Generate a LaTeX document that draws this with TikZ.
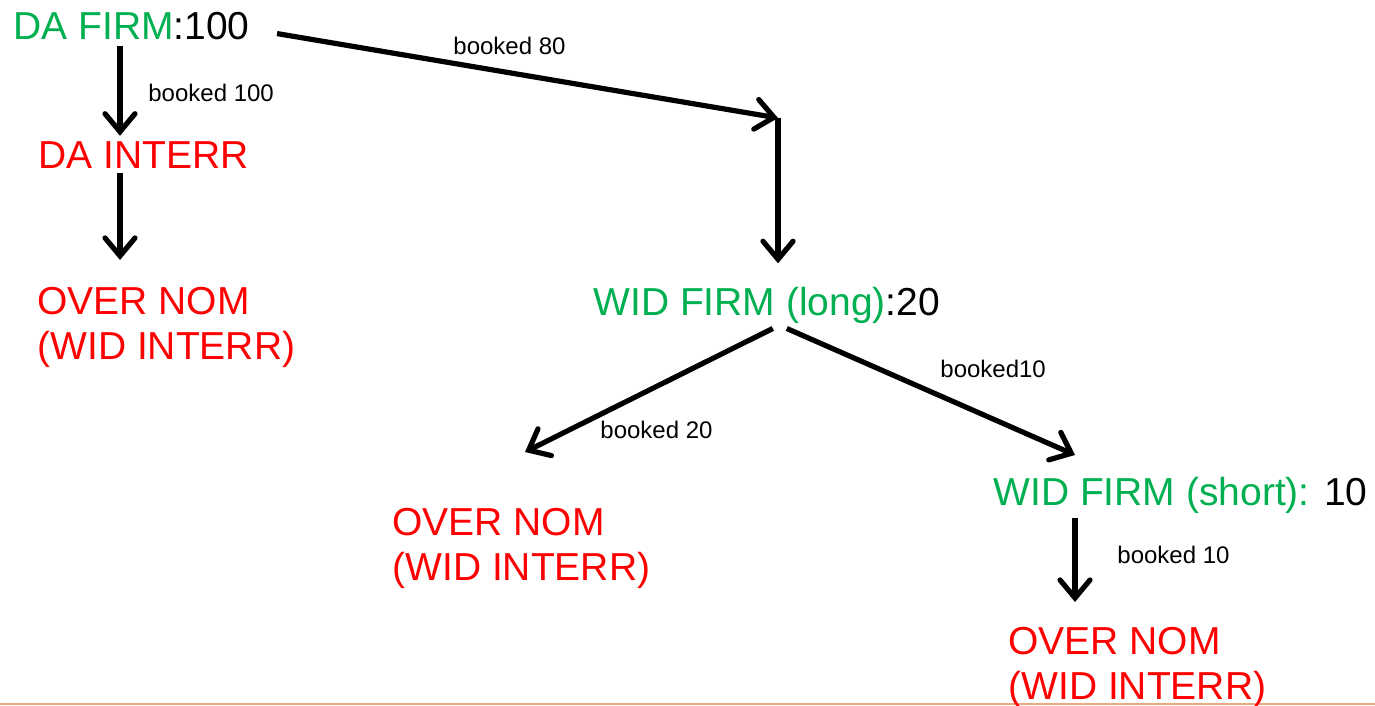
\documentclass[tikz,border=0pt]{standalone}
\usepackage{fontspec}
\setmainfont{Liberation Sans}
\usetikzlibrary{arrows.meta}
\definecolor{firmgreen}{RGB}{0,176,80}
\definecolor{interrred}{RGB}{255,0,0}
\definecolor{rulebrown}{RGB}{238,168,128}

\begin{document}
\begin{tikzpicture}[x=0.5pt,y=-0.5pt]
	\tikzset{firm/.style={text=firmgreen, font=\fontsize{19.5}{22.5}\selectfont,
				inner sep=2.5pt, anchor=base west}}
	\tikzset{interr/.style={text=interrred, font=\fontsize{19.5}{22.5}\selectfont,
				inner sep=2.5pt, align=left, anchor=north west}}
	\tikzset{bklabel/.style={font=\fontsize{12}{14}\selectfont, inner sep=0pt, anchor=base west}}
	\tikzset{flow/.style={line width=2.6pt,
				-{Straight Barb[length=9pt,width=15pt,line cap=round]}}}

	\useasboundingbox (0,0) rectangle (1375,706);
	\draw[rulebrown, line width=1pt] (0,704) -- (1375,704);

	% nodes
	\node[firm] (dafirm) at (8,40) {DA FIRM\textcolor{black}{:100}};
	\node[interr, anchor=base west] (dainterr) at (33,168) {DA INTERR};
	\node[interr] (onoma) at (32,282) {OVER NOM\\(WID INTERR)};
	\node[firm] (wlong) at (588,315) {WID FIRM (long)\textcolor{black}{:20}};
	\node[interr] (onomb) at (387,503) {OVER NOM\\(WID INTERR)};
	\node[firm] (wshort) at (988,505) {WID FIRM (short): \textcolor{black}{10}};
	\node[interr] (onomc) at (1003,622) {OVER NOM\\(WID INTERR)};

	% connector ends
	\coordinate (cola) at (120,0);
	\coordinate (colc) at (1075,0);
	\coordinate (bend) at (778,118);
	\coordinate (end20) at (525,452);
	\coordinate (end10) at (1075,455);

	\draw[flow] (dafirm.south -| cola) -- (dainterr.north -| cola);
	\draw[flow, shorten >=11pt] (dainterr.south -| cola) -- (onoma.north -| cola);
	\draw[flow] ([shift={(22,7)}]dafirm.east) -- (bend);
	\draw[flow, shorten >=9pt] (bend) -- (wlong.north -| bend);
	\draw[flow] ([xshift=3pt]wlong.south) -- (end20);
	\draw[flow] ([xshift=10pt]wlong.south) -- (end10);
	\draw[flow, shorten >=10pt] (wshort.south -| colc) -- (onomc.north -| colc);

	% labels
	\node[bklabel] (lb100) at (148,102) {booked 100};
	\node[bklabel] (lb80) at (453,55) {booked 80};
	\node[bklabel] (lb20) at (600,438) {booked 20};
	\node[bklabel] (lb10a) at (940,377) {booked10};
	\node[bklabel] (lb10b) at (1117,563) {booked 10};
\end{tikzpicture}
\end{document}
